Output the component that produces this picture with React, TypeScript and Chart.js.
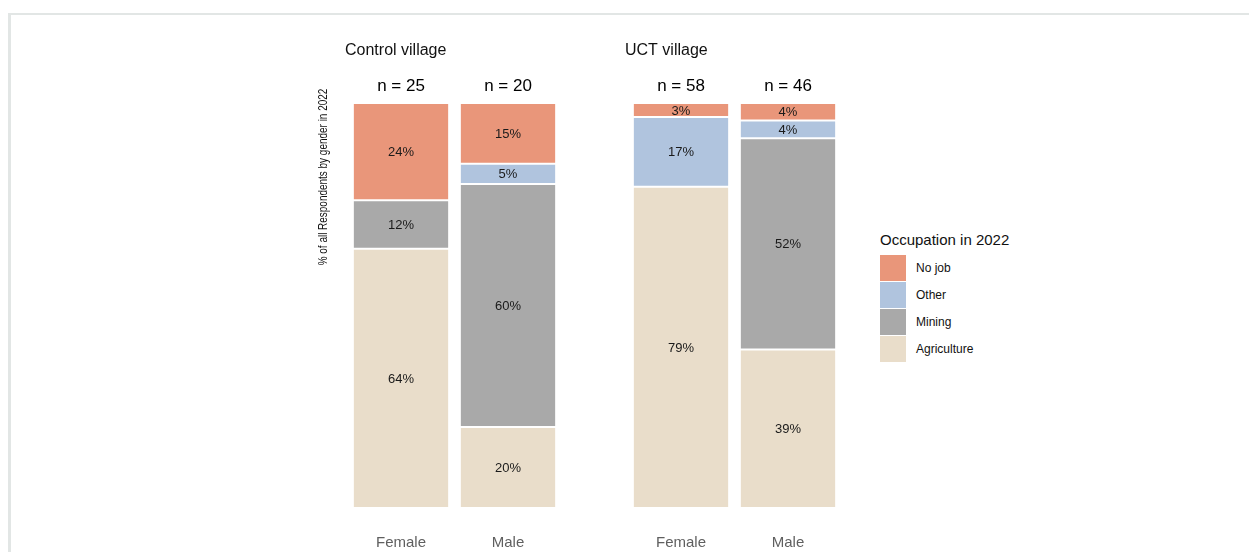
import React, { useEffect, useRef } from "react";
import { Chart, registerables } from "chart.js";

Chart.register(...registerables);

// ---- data ----
const genders = ["Female", "Male"];
const occupations = ["Agriculture", "Mining", "Other", "No job"];
const occupationColors = ["#E9DDCA", "#A9A9A9", "#B0C4DE", "#E9967A"];

const controlTitle = "Control village";
const controlN = [25, 20];
const controlAgriculture = [16, 4];
const controlMining = [3, 12];
const controlOther = [0, 1];
const controlNoJob = [6, 3];

const uctTitle = "UCT village";
const uctN = [58, 46];
const uctAgriculture = [46, 18];
const uctMining = [0, 24];
const uctOther = [10, 2];
const uctNoJob = [2, 2];

const yAxisTitle = "% of all Respondents by gender in 2022";
const legendTitle = "Occupation in 2022";

const FONT = '"Liberation Sans", Arial, Helvetica, sans-serif';

const toPercent = (counts: number[], n: number[]) => counts.map((c, i) => (c / n[i]) * 100);

const overlayPlugin = {
  id: "overlay",
  afterDatasetsDraw(chart: any, _args: any, opts: any) {
    const { ctx, chartArea } = chart;
    const xs = chart.scales.x;
    ctx.save();
    // segment labels
    ctx.font = `13px ${FONT}`;
    ctx.fillStyle = "#1a1a1a";
    ctx.textAlign = "center";
    ctx.textBaseline = "middle";
    chart.data.datasets.forEach((ds: any, di: number) => {
      const meta = chart.getDatasetMeta(di);
      meta.data.forEach((el: any, i: number) => {
        const v = ds.data[i];
        if (!v) return;
        const p = el.getProps(["x", "y", "base"], true);
        ctx.fillText(Math.round(v) + "%", p.x, (p.y + p.base) / 2 + 1);
      });
    });
    // n labels
    ctx.font = `17px ${FONT}`;
    ctx.fillStyle = "#000";
    ctx.textBaseline = "alphabetic";
    (opts.nLabels || []).forEach((n: number, i: number) => {
      ctx.fillText("n = " + n, xs.getPixelForValue(i), 91);
    });
    // x tick labels
    ctx.font = `15px ${FONT}`;
    ctx.fillStyle = "#5f5f5f";
    chart.data.labels.forEach((lab: string, i: number) => {
      ctx.fillText(lab, xs.getPixelForValue(i), 547);
    });
    // facet title
    ctx.font = `16px ${FONT}`;
    ctx.fillStyle = "#111";
    ctx.textAlign = "left";
    ctx.fillText(opts.title || "", chartArea.left - 2.5, 55);
    // y axis title
    if (opts.yTitle) {
      ctx.font = `12px ${FONT}`;
      ctx.fillStyle = "#111";
      ctx.translate(opts.yTitleX, 177);
      ctx.rotate(-Math.PI / 2);
      ctx.scale(0.83, 1);
      ctx.textAlign = "center";
      ctx.textBaseline = "middle";
      ctx.fillText(opts.yTitle, 0, 0);
    }
    ctx.restore();
  },
};

type PanelProps = {
  left: number;
  width: number;
  padLeft: number;
  padRight: number;
  title: string;
  nLabels: number[];
  series: number[][];
  yTitle?: string;
  yTitleX?: number;
};

function Panel(props: PanelProps) {
  const ref = useRef<HTMLCanvasElement | null>(null);
  useEffect(() => {
    if (!ref.current) return;
    const chart = new Chart(ref.current, {
      type: "bar",
      data: {
        labels: genders,
        datasets: occupations.map((occ, k) => ({
          label: occ,
          data: toPercent(props.series[k], props.nLabels),
          backgroundColor: occupationColors[k],
          borderColor: "#ffffff",
          borderWidth: 1,
          borderSkipped: false,
          categoryPercentage: 1,
          barPercentage: 0.9,
        })),
      },
      options: {
        animation: false,
        responsive: true,
        maintainAspectRatio: false,
        layout: {
          padding: { left: props.padLeft, right: props.padRight, top: 103, bottom: 44 },
        },
        scales: {
          x: { type: "category", stacked: true, display: false, offset: true },
          y: { stacked: true, min: 0, max: 100, display: false },
        },
        plugins: {
          legend: { display: false },
          tooltip: { enabled: false },
          overlay: {
            title: props.title,
            nLabels: props.nLabels,
            yTitle: props.yTitle,
            yTitleX: props.yTitleX,
          },
        } as any,
      },
      plugins: [overlayPlugin],
    });
    return () => chart.destroy();
  }, []);
  return (
    <div style={{ position: "absolute", left: props.left, top: 0, width: props.width, height: 552 }}>
      <canvas ref={ref} />
    </div>
  );
}

const legendOrder = [3, 2, 1, 0];

export default function App() {
  return (
    <div
      style={{
        position: "absolute",
        left: 0,
        top: 0,
        width: 1249,
        height: 552,
        overflow: "hidden",
        background: "#fff",
        fontFamily: FONT,
      }}
    >
      <div
        style={{
          position: "absolute",
          left: 8,
          top: 13,
          width: 1249,
          height: 600,
          borderTop: "2px solid #e2e6e5",
          borderLeft: "3px solid #e2e6e5",
        }}
      />
      <Panel
        left={300}
        width={280}
        padLeft={47.5}
        padRight={18.5}
        title={controlTitle}
        nLabels={controlN}
        series={[controlAgriculture, controlMining, controlOther, controlNoJob]}
        yTitle={yAxisTitle}
        yTitleX={24}
      />
      <Panel
        left={600}
        width={260}
        padLeft={27.5}
        padRight={18.5}
        title={uctTitle}
        nLabels={uctN}
        series={[uctAgriculture, uctMining, uctOther, uctNoJob]}
      />
      <div
        style={{
          position: "absolute",
          left: 880,
          top: 231,
          fontSize: 15,
          lineHeight: "18px",
          color: "#111",
          whiteSpace: "nowrap",
        }}
      >
        {legendTitle}
      </div>
      {legendOrder.map((k, j) => (
        <div key={k}>
          <div
            style={{
              position: "absolute",
              left: 880,
              top: 255 + j * 27,
              width: 26,
              height: 26,
              background: occupationColors[k],
            }}
          />
          <div
            style={{
              position: "absolute",
              left: 916,
              top: 255 + j * 27,
              height: 26,
              lineHeight: "26px",
              fontSize: 12,
              color: "#111",
              whiteSpace: "nowrap",
            }}
          >
            {occupations[k]}
          </div>
        </div>
      ))}
    </div>
  );
}
